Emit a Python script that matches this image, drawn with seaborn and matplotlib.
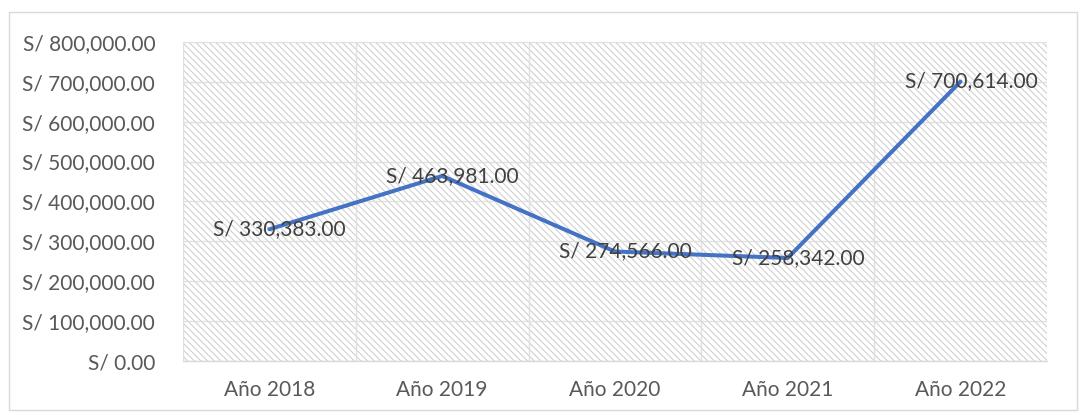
import matplotlib
matplotlib.use("Agg")
import matplotlib.pyplot as plt
from matplotlib.patches import Rectangle
import seaborn as sns
import pandas as pd

years = ["Año 2018", "Año 2019", "Año 2020", "Año 2021", "Año 2022"]
amounts = [330383.00, 463981.00, 274566.00, 258342.00, 700614.00]
y_ticks = [0, 100000, 200000, 300000, 400000, 500000, 600000, 700000, 800000]

df = pd.DataFrame({"year": years, "amount": amounts})

sns.set_theme(style="white")
plt.rcParams["font.family"] = ["Lato", "DejaVu Sans"]
plt.rcParams["hatch.linewidth"] = 0.7

fig = plt.figure(figsize=(10.86, 4.15), dpi=100)
ax = fig.add_axes([0.1685, 0.13, 0.7955, 0.769])

# outer chart border
fig.patches.append(Rectangle((0.008, 0.012), 0.984, 0.96, transform=fig.transFigure,
                             fill=False, edgecolor="#d9d9d9", linewidth=1.0))

# hatched plot area
ax.patch.set_visible(False)
ax.add_patch(Rectangle((0, 0), 1, 1, transform=ax.transAxes, facecolor="white",
                       edgecolor="#cccccc", linewidth=0, hatch="\\\\\\\\\\", zorder=0))

sns.lineplot(data=df, x="year", y="amount", ax=ax, color="#4472C4",
             linewidth=2.9, sort=False, zorder=3)

for i, (yr, v) in enumerate(zip(years, amounts)):
    ax.text(i + 0.06, v, f"S/ {v:,.2f}", ha="center", va="center",
            fontsize=15, color="#404040", zorder=4)

ax.set_xlim(-0.5, len(years) - 0.5)
ax.set_ylim(0, 800000)
ax.set_yticks(y_ticks)
ax.set_yticklabels([f"S/ {v:,.2f}" for v in y_ticks])
ax.set_xticks(range(len(years)))
ax.set_xticklabels(years)
ax.set_xticks([i - 0.5 for i in range(len(years) + 1)], minor=True)
ax.set_xlabel("")
ax.set_ylabel("")

ax.set_axisbelow(True)
ax.grid(axis="y", color="#e0e0e0", linewidth=1.0)
ax.grid(axis="x", which="minor", color="#e0e0e0", linewidth=1.0)
ax.grid(axis="x", which="major", visible=False)

for s in ["top", "left", "right"]:
    ax.spines[s].set_visible(False)
ax.spines["bottom"].set_color("#d9d9d9")
ax.spines["bottom"].set_linewidth(1.0)

ax.tick_params(axis="both", which="both", length=0, labelsize=15, colors="#595959")
ax.tick_params(axis="y", pad=20)
ax.tick_params(axis="x", pad=14)

fig.savefig("out.png", dpi=100)
